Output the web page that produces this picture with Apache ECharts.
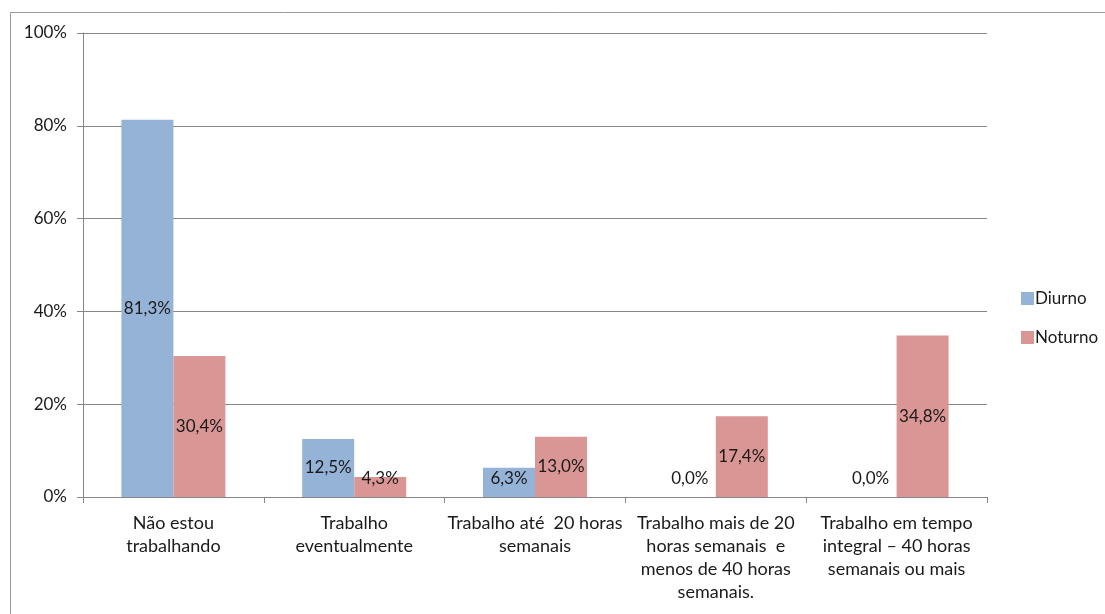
<!DOCTYPE html>
<html>
<head>
<meta charset="utf-8">
<script src="https://cdn.jsdelivr.net/npm/echarts@6/dist/echarts.min.js"></script>
<style>
  html, body { margin: 0; padding: 0; background: #fff; }
  #chart { width: 1105px; height: 614px; }
</style>
</head>
<body>
<div id="chart"></div>
<script>
// Situação de trabalho dos estudantes, por turno (%)
const categories = [
  'Não estou\ntrabalhando',
  'Trabalho\neventualmente',
  'Trabalho até  20 horas\nsemanais',
  'Trabalho mais de 20\nhoras semanais  e\nmenos de 40 horas\nsemanais.',
  'Trabalho em tempo\nintegral – 40 horas\nsemanais ou mais'
];
const diurno = [81.3, 12.5, 6.3, 0.0, 0.0];
const noturno = [30.4, 4.3, 13.0, 17.4, 34.8];
const yTicks = [0, 20, 40, 60, 80, 100];

const FONT = 'Lato, "Open Sans", "Liberation Sans", sans-serif';

// Labels sit in the middle of the bar; short bars keep the label resting on the axis
function toData(values) {
  return values.map(v => {
    if (v < 8) {
      return { value: v, label: { position: 'insideBottom', distance: 10 } };
    }
    return v;
  });
}

const labelStyle = {
  show: true,
  position: 'inside',
  color: '#1a1a1a',
  fontFamily: FONT,
  fontSize: 17,
  formatter: p => p.value.toFixed(1).replace('.', ',') + '%'
};

const chart = echarts.init(document.getElementById('chart'), null, { renderer: 'canvas' });
chart.setOption({
  backgroundColor: '#fff',
  animation: false,
  graphic: [{
    type: 'rect',
    shape: { x: 10.5, y: 12.5, width: 1110, height: 620 },
    style: { fill: 'none', stroke: '#9a9a9a', lineWidth: 1 },
    silent: true
  }],
  grid: { left: 83, right: 118, top: 33, bottom: 117 },
  legend: {
    orient: 'vertical',
    left: 1016,
    top: 285,
    itemWidth: 13,
    itemHeight: 13,
    itemGap: 22,
    icon: 'rect',
    textStyle: { fontFamily: FONT, fontSize: 17, color: '#1a1a1a', padding: [0, 0, 0, -4] },
    data: ['Diurno', 'Noturno']
  },
  xAxis: {
    type: 'category',
    data: categories,
    axisLine: { lineStyle: { color: '#868686' } },
    axisTick: { show: true, length: 6, lineStyle: { color: '#868686' } },
    axisLabel: {
      interval: 0,
      margin: 15,
      fontFamily: FONT,
      fontSize: 18,
      color: '#1a1a1a',
      lineHeight: 23,
      align: 'center'
    }
  },
  yAxis: {
    type: 'value',
    min: yTicks[0],
    max: yTicks[yTicks.length - 1],
    interval: 20,
    axisLine: { show: true, lineStyle: { color: '#868686' } },
    axisTick: { show: true, length: 6, lineStyle: { color: '#868686' } },
    splitLine: { lineStyle: { color: '#868686' } },
    axisLabel: {
      margin: 16,
      fontFamily: FONT,
      fontSize: 17,
      color: '#1a1a1a',
      formatter: '{value}%'
    }
  },
  series: [
    {
      name: 'Diurno',
      type: 'bar',
      data: toData(diurno),
      barWidth: 52,
      barGap: '0%',
      itemStyle: { color: '#95B3D7' },
      label: labelStyle
    },
    {
      name: 'Noturno',
      type: 'bar',
      data: toData(noturno),
      barWidth: 52,
      barGap: '0%',
      itemStyle: { color: '#D99694' },
      label: labelStyle
    }
  ]
});
</script>
</body>
</html>
